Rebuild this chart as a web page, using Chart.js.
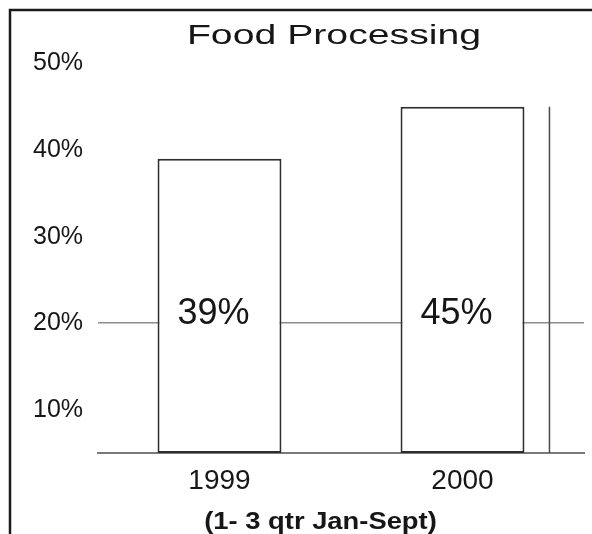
<!DOCTYPE html>
<html>
<head>
<meta charset="utf-8">
<script src="https://cdn.jsdelivr.net/npm/chart.js@4/dist/chart.umd.min.js"></script>
<style>
  html, body { margin: 0; padding: 0; background: #ffffff; }
  #wrap { width: 592px; height: 534px; position: relative; }
</style>
</head>
<body>
<div id="wrap"><canvas id="chart" width="592" height="534"></canvas></div>
<script>
// Share of food processing, by year
const categories = ['1999', '2000'];
const shares = [39, 45];
const yTickValues = [10, 20, 30, 40, 50];
const yMin = 5;
const yMax = 50;
const referenceLine = 20;     // the one horizontal rule drawn across the plot
const labelLevel = 21;        // height (in %) at which value labels sit
const chartTitle = 'Food Processing';
const periodNote = '(1- 3 qtr Jan-Sept)';

const FONT = '"Liberation Sans", Arial, Helvetica, sans-serif';
const INK = '#161616';

// horizontal stretch (and small nudge) applied to the wide heading texts
const stretchBy = {
  [chartTitle]: { sx: 1.4, dx: -7 },
  [periodNote]: { sx: 1.14, dx: 12 }
};

const stretchText = {
  id: 'stretchText',
  beforeDraw(chart) {
    chart.boxes.forEach(box => {
      if (box._stretched || !box.options || box.options.text === undefined) return;
      const text = [].concat(box.options.text).join('');
      const spec = stretchBy[text];
      if (!spec) return;
      const draw = box.draw.bind(box);
      box.draw = function (area) {
        const ctx = this.ctx;
        const cx = (this.left + this.right) / 2;
        ctx.save();
        ctx.translate(cx + spec.dx, 0);
        ctx.scale(spec.sx, 1);
        ctx.translate(-cx, 0);
        draw(area);
        ctx.restore();
      };
      box._stretched = true;
    });
  }
};

// percentage written inside each bar
const valueLabels = {
  id: 'valueLabels',
  afterDatasetsDraw(chart) {
    const { ctx } = chart;
    const y = chart.scales.y;
    const meta = chart.getDatasetMeta(0);
    ctx.save();
    ctx.font = '36px ' + FONT;
    ctx.fillStyle = INK;
    ctx.textAlign = 'center';
    ctx.textBaseline = 'middle';
    meta.data.forEach((bar, i) => {
      ctx.fillText(shares[i] + '%', bar.x - 6, y.getPixelForValue(labelLevel));
    });
    ctx.restore();
  }
};

// thin upright rule to the right of the last bar
const edgeRule = {
  id: 'edgeRule',
  afterDatasetsDraw(chart) {
    const { ctx } = chart;
    const meta = chart.getDatasetMeta(0);
    const bar = meta.data[meta.data.length - 1];
    const x = bar.x + bar.width / 2 + 25;
    ctx.save();
    ctx.strokeStyle = '#4a4a4a';
    ctx.lineWidth = 1.5;
    ctx.beginPath();
    ctx.moveTo(x, bar.y);
    ctx.lineTo(x, bar.base);
    ctx.stroke();
    ctx.restore();
  }
};

// frame along the top and left edges
const frame = {
  id: 'frame',
  afterDraw(chart) {
    const { ctx } = chart;
    ctx.save();
    ctx.strokeStyle = '#1a1a1a';
    ctx.lineWidth = 2.5;
    ctx.beginPath();
    ctx.moveTo(10, chart.height);
    ctx.lineTo(10, 10);
    ctx.lineTo(chart.width, 10);
    ctx.stroke();
    ctx.restore();
  }
};

new Chart(document.getElementById('chart'), {
  type: 'bar',
  data: {
    labels: categories,
    datasets: [{
      data: shares,
      base: yMin,
      backgroundColor: '#ffffff',
      borderColor: '#2e2e2e',
      borderWidth: 2,
      borderSkipped: false,
      barPercentage: 0.51,
      categoryPercentage: 1
    }]
  },
  options: {
    responsive: false,
    animation: false,
    devicePixelRatio: 1,
    layout: { padding: { left: 33, right: 8, top: 0, bottom: 0 } },
    plugins: {
      legend: { display: false },
      tooltip: { enabled: false },
      title: {
        display: true,
        text: chartTitle,
        fullSize: false,
        color: INK,
        font: { family: FONT, size: 28, weight: 'normal' },
        padding: { top: 19, bottom: 11 }
      },
      subtitle: {
        display: true,
        text: periodNote,
        position: 'bottom',
        fullSize: true,
        color: INK,
        font: { family: FONT, size: 24, weight: 'bold', lineHeight: 1.0 },
        padding: { top: 9.4, bottom: 0 }
      }
    },
    scales: {
      x: {
        grid: { display: false },
        border: { display: true, color: '#7a7a7a', width: 2 },
        ticks: {
          color: INK,
          font: { family: FONT, size: 28 },
          padding: 3
        }
      },
      y: {
        min: yMin,
        max: yMax,
        afterBuildTicks(scale) {
          scale.ticks = yTickValues.map(v => ({ value: v }));
        },
        afterFit(scale) { scale.width = 65; },
        border: { display: false },
        grid: {
          drawTicks: false,
          lineWidth: 1.5,
          color: ctx => (ctx.tick && ctx.tick.value === referenceLine) ? '#8c8c8c' : 'rgba(0,0,0,0)'
        },
        ticks: {
          color: INK,
          crossAlign: 'far',
          padding: 0,
          font: { family: FONT, size: 25 },
          callback: v => v + '%'
        }
      }
    }
  },
  plugins: [stretchText, valueLabels, edgeRule, frame]
});
</script>
</body>
</html>
